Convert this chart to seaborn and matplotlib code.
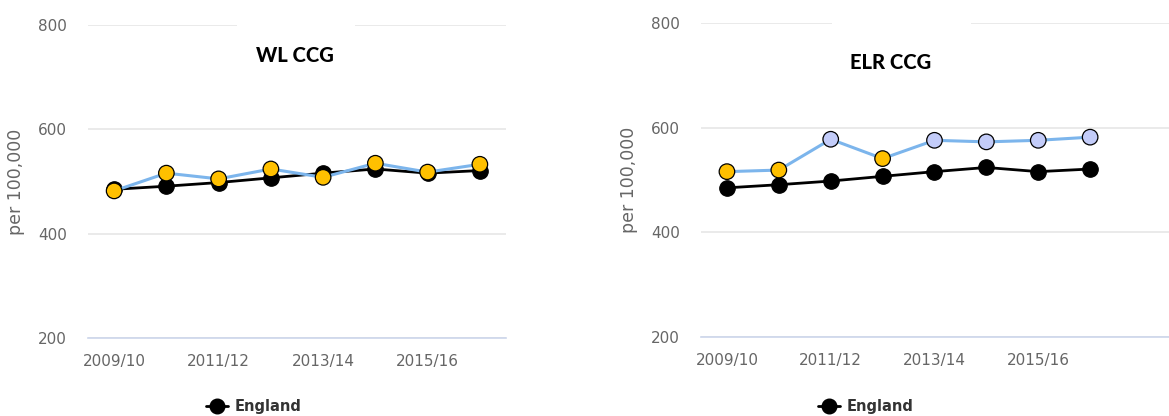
import matplotlib
matplotlib.use("Agg")
import matplotlib.pyplot as plt
from matplotlib.lines import Line2D
from matplotlib.patches import Rectangle
import seaborn as sns
import pandas as pd

# ---- data ----
years = ['2009/10', '2010/11', '2011/12', '2012/13', '2013/14', '2014/15', '2015/16', '2016/17']
england = [485, 491, 498, 507, 516, 524, 516, 521]
wl_ccg = [482, 516, 505, 524, 508, 535, 518, 533]
elr_ccg = [516, 519, 578, 541, 576, 573, 576, 582]
wl_sig = ['similar'] * 8
elr_sig = ['similar', 'similar', 'higher', 'similar', 'higher', 'higher', 'higher', 'higher']
titles = ['WL CCG', 'ELR CCG']
y_ticks = [200, 400, 600, 800]

sns.set_style('white')
plt.rcParams['font.family'] = ['DejaVu Sans']

sig_palette = {'similar': '#FFC000', 'higher': '#C3CCF9'}
line_blue = '#7CB5EC'
grey_txt = '#666666'

fig = plt.figure(figsize=(11.69, 4.16), dpi=100)
W, H = 1169, 416

panels = [
    dict(left=88, right=506, top=25, bottom=338, ccg=wl_ccg, sig=wl_sig, title=titles[0],
         xmax=7.5, title_xy=(294.5, 55), gap=(237, 355), leg_x=253.5, ylab_x=25),
    dict(left=701, right=1169, top=23.3, bottom=336.7, ccg=elr_ccg, sig=elr_sig, title=titles[1],
         xmax=8.52, title_xy=(890.7, 62.7), gap=(831.7, 970.7), leg_x=866, ylab_x=638),
]

for p in panels:
    ax = fig.add_axes([p['left'] / W, 1 - p['bottom'] / H,
                       (p['right'] - p['left']) / W, (p['bottom'] - p['top']) / H])
    pw = p['right'] - p['left']
    ph = p['bottom'] - p['top']
    x = list(range(len(years)))
    df_e = pd.DataFrame({'x': x, 'y': england})
    df_c = pd.DataFrame({'x': x, 'y': p['ccg'], 'sig': p['sig']})

    sns.lineplot(data=df_e, x='x', y='y', color='black', lw=2.0, ax=ax, zorder=3)
    sns.scatterplot(data=df_e, x='x', y='y', color='black', s=125, edgecolor='black',
                    linewidth=0.8, ax=ax, zorder=4)
    sns.lineplot(data=df_c, x='x', y='y', color=line_blue, lw=2.2, ax=ax, zorder=5)
    sns.scatterplot(data=df_c, x='x', y='y', hue='sig', palette=sig_palette, s=125,
                    edgecolor='black', linewidth=0.9, ax=ax, zorder=6, legend=False)

    ax.set_xlim(-0.5, p['xmax'])
    ax.set_ylim(200, 800)
    ax.set_xticks(x)
    ax.set_xticklabels([y if i % 2 == 0 else '' for i, y in enumerate(years)])
    ax.set_yticks(y_ticks)
    ax.set_yticklabels([str(v) for v in y_ticks])
    ax.grid(axis='y', color='#e6e6e6', lw=1.2)
    ax.grid(axis='x', visible=False)
    ax.set_axisbelow(True)
    for s in ['top', 'left', 'right']:
        ax.spines[s].set_visible(False)
    ax.spines['bottom'].set_color('#ccd6eb')
    ax.spines['bottom'].set_linewidth(1.2)
    ax.tick_params(axis='x', length=4, width=1, color='#ccd6eb', labelsize=11,
                   labelcolor=grey_txt, pad=7.5)
    ax.tick_params(axis='y', length=0, labelsize=11, labelcolor=grey_txt, pad=15)
    ax.set_xlabel('')
    ax.set_ylabel('per 100,000', fontsize=12.5, color=grey_txt)
    ax.yaxis.set_label_coords((p['ylab_x'] - p['left']) / pw, 0.5)

    # white gap in top gridline behind the title area
    g0, g1 = p['gap']
    ax.add_patch(Rectangle(((g0 - p['left']) / pw, 0.985), (g1 - g0) / pw, 0.03,
                           transform=ax.transAxes, facecolor='white', edgecolor='none',
                           zorder=1, clip_on=False))

    tx, ty = p['title_xy']
    ax.text((tx - p['left']) / pw, (p['bottom'] - ty) / ph, p['title'],
            transform=ax.transAxes, ha='center', va='center', fontsize=14.5,
            fontweight=900, family=['Lato', 'DejaVu Sans'], color='black')

    handle = Line2D([0], [0], color='black', lw=2, marker='o', markersize=10.5,
                    markerfacecolor='black', markeredgecolor='black')
    leg = ax.legend([handle], ['England'], loc='center',
                    bbox_to_anchor=((p['leg_x'] - p['left']) / pw, (p['bottom'] - 407) / ph),
                    frameon=False, handlelength=1.5, handletextpad=0.45,
                    prop={'weight': 'bold', 'size': 10.5})
    for t in leg.get_texts():
        t.set_color('#333333')

fig.savefig('out.png', dpi=100)
